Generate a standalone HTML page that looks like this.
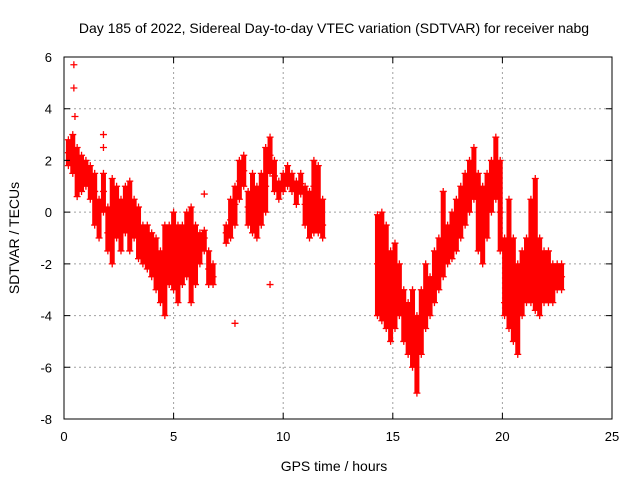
<!DOCTYPE html>
<html><head><meta charset="utf-8"><style>
body{margin:0;background:#fff}
svg{display:block;font-family:"Liberation Sans",sans-serif}
</style></head><body>
<svg id="chart" width="640" height="480" viewBox="0 0 640 480">
<rect width="640" height="480" fill="#fff"/>
<text x="334" y="33" font-size="14" text-anchor="middle">Day 185 of 2022, Sidereal Day-to-day VTEC variation (SDTVAR) for receiver nabg</text>
<text x="334" y="471" font-size="14" text-anchor="middle">GPS time / hours</text>
<text transform="translate(19,238) rotate(-90)" font-size="14" text-anchor="middle">SDTVAR / TECUs</text>
<g id="grid"></g>
<g id="marks"></g>
<rect x="64" y="57" width="548" height="362" fill="none" stroke="#000" stroke-width="1"/>
<g id="axes"></g>
</svg>
<script>
const xTicks=[0,5,10,15,20,25];
const yTicks=[-8,-6,-4,-2,0,2,4,6];
const times=[0.2,0.4,0.6,0.8,1.0,1.2,1.4,1.6,1.8,2.0,2.2,2.4,2.6,2.8,3.0,3.2,3.4,3.6,3.8,4.0,4.2,4.4,4.6,4.8,5.0,5.2,5.4,5.6,5.8,6.0,6.2,6.4,6.6,6.8,
7.4,7.6,7.8,8.0,8.2,8.4,8.6,8.8,9.0,9.2,9.4,9.6,9.8,10.0,10.2,10.4,10.6,10.8,11.0,11.2,11.4,11.6,11.8,
14.3,14.5,14.7,14.9,15.1,15.3,15.5,15.7,15.9,16.1,16.3,16.5,16.7,16.9,17.1,17.3,17.5,17.7,17.9,18.1,18.3,18.5,18.7,18.9,19.1,19.3,19.5,19.7,19.9,20.1,20.3,20.5,20.7,20.9,21.1,21.3,21.5,21.7,21.9,22.1,22.3,22.5,22.7];
const values=[[2.8,1.8,2.3],[3.0,1.5,2.2],[2.5,0.6,1.5],[2.2,0.8,1.2],[2.0,1.0,1.5],[1.8,0.5,1.2],[1.5,-0.5,0.8],[0.5,-1.0,0],[1.5,0,0.8],[0.2,-1.5,-0.8],[1.3,-2.0,0],[1.0,-1.0,0.2],[0.5,-1.5,-0.5],[1.0,-0.8,0.3],[1.2,-1.5,0],[0.5,-1.0,-0.3],[0.2,-1.8,-0.8],[-0.5,-2.0,-1.2],[-0.5,-2.2,-1.3],[-0.8,-2.5,-1.5],[-1.0,-3.0,-2.0],[-1.5,-3.5,-2.5],[-0.5,-4.0,-2.0],[-0.5,-2.8,-1.8],[0,-3.0,-1.5],[-0.5,-3.5,-2],[-0.5,-2.8,-1.5],[0,-2.5,-1.2],[0.2,-3.5,-1.5],[-0.5,-2.8,-2],[-0.8,-2.0,-1.5],[-0.7,-1.5,-1],[-1.5,-2.8,-2.2],[-2,-2.8,-2.5],
[-0.5,-1.2,-0.8],[0.5,-1.0,-0.3],[1.0,-0.5,0.3],[2.0,0.5,1.2],[2.2,1.0,1.6],[0.8,-0.5,0.2],[1.5,-0.8,0.3],[1.0,-1.0,0],[1.5,0.5,-0.5],[2.5,1.0,0],[2.9,1.5,2.2],[2.0,0.8,1.4],[1.2,0.5,0.8],[1.5,0.8,1.1],[1.8,1.0,1.4],[1.5,0.8,1.1],[1.2,0.3,0.8],[1.5,0.7,1.1],[1.0,-0.5,0.3],[0.8,-1.0,0],[2.0,-0.8,1.0],[1.8,-0.8,0.5],[0.5,-1.0,-0.5],
[-0.1,-2,-4],[0,-2.5,-4.2],[-0.5,-3,-4.5],[-1.5,-3.5,-5.0],[-1.2,-2.5,-4.5],[-2.0,-3.0,-4.0],[-3.0,-4.0,-5.0],[-3.5,-4.5,-5.5],[-3.0,-4.5,-6.0],[-4.0,-5.5,-7.0],[-3.0,-4.5,-5.5],[-2.0,-3.5,-4.5],[-2.5,-3.0,-4.0],[-1.5,-2.5,-3.5],[-1.0,-2.0,-3.0],[0.8,-1.5,-2.5],[-0.5,-1.5,-2.0],[0,-1.0,-1.8],[0.5,-0.5,-1.5],[1.0,0,-1.0],[1.5,0.5,-0.5],[2.0,1.0,0],[2.5,1.5,0.5],[1.5,0.5,-1.5],[1.0,-0.5,-2.0],[1.5,0,-1.0],[2.0,1.0,0],[2.9,1.5,0.5],[2.0,0,-1.5],[-1,-3.5,-4.0],[0.5,-3.0,-4.5],[-1.0,-3.5,-5.0],[-2.0,-4.0,-5.5],[-1.5,-3.0,-4.0],[-1.0,-2.5,-3.5],[0.5,-2.0,-3.5],[1.3,-1.5,-3.8],[-1.0,-2.5,-4.0],[-1.5,-2.5,-3.5],[-1.5,-2.5,-3.5],[-2.0,-3.0,-3.5],[-2.0,-2.5,-3.0],[-2.0,-2.5,-3.0]];
const outlierTimes=[0.45,0.45,0.5,1.8,1.8,6.4,7.8,9.4];
const outlierValues=[5.7,4.8,3.7,3.0,2.5,0.7,-4.3,-2.8];
const NS='http://www.w3.org/2000/svg';
const X0=64,X1=612,Y0=419,Y1=57;
function xs(t){return X0+(t-0)/(25-0)*(X1-X0);}
function ys(v){return Y0-(v-(-8))/(6-(-8))*(Y0-Y1);}
function mk(tag,a,p){const e=document.createElementNS(NS,tag);for(const k in a)e.setAttribute(k,a[k]);p.appendChild(e);return e;}
const grid=document.getElementById('grid'),axes=document.getElementById('axes'),marks=document.getElementById('marks');
xTicks.forEach(t=>{const x=xs(t);
 if(t>0&&t<25){const l=mk('line',{x1:x,x2:x,y1:Y1,y2:Y0,stroke:'#a0a0a0','stroke-dasharray':'2,3'},grid);}
 const tk=mk('path',{d:`M${x},${Y0}v-6M${x},${Y1}v6`,stroke:'#000'},axes);
 const tx=mk('text',{x:x,y:Y0+22,'font-size':13,'text-anchor':'middle'},axes);tx.textContent=t;});
yTicks.forEach(v=>{const y=ys(v);
 if(v>-8&&v<6){const l=mk('line',{x1:X0,x2:X1,y1:y,y2:y,stroke:'#a0a0a0','stroke-dasharray':'2,3'},grid);}
 const tk=mk('path',{d:`M${X0},${y}h6M${X1},${y}h-6`,stroke:'#000'},axes);
 const tx=mk('text',{x:X0-12,y:y+5,'font-size':13,'text-anchor':'end'},axes);tx.textContent=v;});
function plus(t,v){const x=xs(t),y=ys(v);const p=mk('path',{d:`M${x-3.5},${y}h7M${x},${y-3.5}v7`,stroke:'#f00','stroke-width':1.3},marks);}
times.forEach((t,i)=>{const vs=values[i];const mx=Math.max(...vs),mn=Math.min(...vs);
 const r=mk('line',{x1:xs(t),x2:xs(t),y1:ys(mx),y2:ys(mn),stroke:'#f00','stroke-width':5},marks);
 vs.forEach(v=>plus(t,v));});
outlierTimes.forEach((t,i)=>plus(t,outlierValues[i]));
</script>
</body></html>
